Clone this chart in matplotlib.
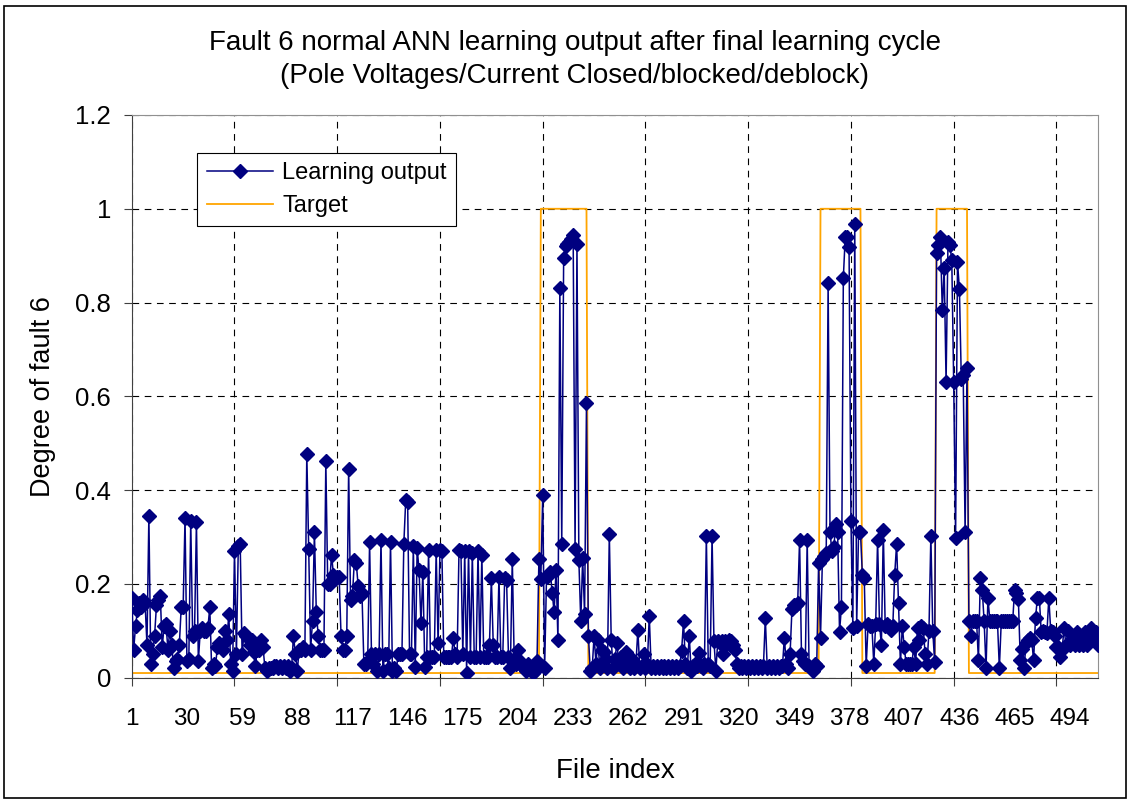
import matplotlib
matplotlib.use("Agg")
import matplotlib.pyplot as plt
from matplotlib.patches import Rectangle
from matplotlib.ticker import FixedLocator, NullFormatter

plt.rcParams['font.family'] = ['Liberation Sans', 'DejaVu Sans']

# learning output, one value per file index (1..509)
learning_output = [
    0.17, 0.06, 0.11, 0.145, 0.16, 0.15, 0.165, 0.16, 0.07, 0.345,
    0.03, 0.05, 0.09, 0.155, 0.165, 0.175, 0.065, 0.11, 0.115, 0.06,
    0.10, 0.07, 0.02, 0.035, 0.04, 0.07, 0.15, 0.15, 0.34, 0.035,
    0.04, 0.335, 0.09, 0.10, 0.333, 0.035, 0.10, 0.105, 0.10, 0.10,
    0.105, 0.15, 0.02, 0.03, 0.025, 0.065, 0.075, 0.07, 0.06, 0.10,
    0.08, 0.135, 0.03, 0.015, 0.27, 0.05, 0.28, 0.285, 0.05, 0.095,
    0.09, 0.085, 0.07, 0.08, 0.055, 0.025, 0.06, 0.06, 0.08, 0.065,
    0.02, 0.015, 0.02, 0.02, 0.02, 0.025, 0.025, 0.02, 0.025, 0.02,
    0.025, 0.02, 0.025, 0.015, 0.02, 0.09, 0.05, 0.015, 0.06, 0.06,
    0.065, 0.06, 0.478, 0.275, 0.06, 0.12, 0.31, 0.14, 0.09, 0.06,
    0.06, 0.06, 0.462, 0.20, 0.20, 0.262, 0.22, 0.21, 0.215, 0.215,
    0.09, 0.06, 0.06, 0.09, 0.446, 0.165, 0.175, 0.25, 0.245, 0.195,
    0.175, 0.18, 0.03, 0.03, 0.035, 0.29, 0.05, 0.03, 0.05, 0.015,
    0.05, 0.294, 0.015, 0.05, 0.05, 0.02, 0.29, 0.015, 0.02, 0.015,
    0.05, 0.05, 0.05, 0.286, 0.379, 0.375, 0.05, 0.05, 0.28, 0.023,
    0.276, 0.23, 0.116, 0.226, 0.023, 0.045, 0.272, 0.045, 0.045, 0.045,
    0.272, 0.073, 0.272, 0.27, 0.045, 0.045, 0.045, 0.045, 0.045, 0.084,
    0.05, 0.045, 0.272, 0.27, 0.05, 0.27, 0.01, 0.27, 0.045, 0.265,
    0.045, 0.045, 0.27, 0.045, 0.262, 0.045, 0.045, 0.045, 0.07, 0.212,
    0.07, 0.045, 0.045, 0.215, 0.045, 0.045, 0.212, 0.208, 0.045, 0.02,
    0.254, 0.04, 0.03, 0.06, 0.035, 0.025, 0.02, 0.015, 0.03, 0.025,
    0.02, 0.01, 0.015, 0.035, 0.254,
    0.21, 0.39, 0.02, 0.215, 0.22, 0.225, 0.18, 0.14, 0.23, 0.08,
    0.83, 0.285, 0.895, 0.92, 0.925, 0.93, 0.935, 0.945, 0.275, 0.925,
    0.25, 0.12, 0.255, 0.135, 0.585, 0.09, 0.015, 0.02, 0.09, 0.03,
    0.08, 0.02, 0.06, 0.055, 0.04, 0.02, 0.306, 0.08, 0.02, 0.04,
    0.075, 0.03, 0.045, 0.02, 0.05, 0.055, 0.03, 0.02, 0.04, 0.02,
    0.03, 0.102, 0.02, 0.025, 0.05, 0.02, 0.03, 0.132, 0.02, 0.025,
    0.02, 0.025, 0.02, 0.025, 0.02, 0.025, 0.02, 0.025, 0.02, 0.025,
    0.02, 0.025, 0.02, 0.025, 0.057, 0.122, 0.03, 0.02, 0.09, 0.015,
    0.025, 0.03, 0.025, 0.053, 0.025, 0.02, 0.03, 0.302, 0.03, 0.025,
    0.302, 0.078, 0.015, 0.078, 0.075, 0.078, 0.05, 0.078, 0.075, 0.08,
    0.078, 0.07, 0.06, 0.03, 0.02, 0.025, 0.02, 0.025, 0.02, 0.025,
    0.02, 0.025, 0.02, 0.025, 0.02, 0.025, 0.02, 0.025, 0.127, 0.02,
    0.025, 0.02, 0.025, 0.02, 0.025, 0.02, 0.025, 0.025, 0.085, 0.03,
    0.02, 0.05, 0.147, 0.155, 0.155, 0.16, 0.294, 0.05, 0.035, 0.03,
    0.294, 0.025, 0.02, 0.015, 0.03, 0.025, 0.245, 0.085, 0.253, 0.26,
    0.265, 0.841, 0.31, 0.27, 0.278, 0.327, 0.31, 0.098, 0.151, 0.853,
    0.94, 0.939, 0.918, 0.335, 0.106, 0.967, 0.11, 0.31, 0.31, 0.22,
    0.212, 0.024, 0.114, 0.11, 0.11, 0.03, 0.115, 0.294, 0.115, 0.069,
    0.314, 0.11, 0.115, 0.11, 0.102, 0.11, 0.22, 0.286, 0.159, 0.03,
    0.11, 0.065, 0.03, 0.03, 0.03, 0.03, 0.065, 0.03, 0.106, 0.08,
    0.11, 0.106, 0.05, 0.03, 0.1, 0.302, 0.1, 0.033, 0.906, 0.922,
    0.94, 0.784, 0.873, 0.63, 0.93, 0.922, 0.89, 0.63, 0.298, 0.886,
    0.829, 0.637, 0.645, 0.31, 0.66, 0.122, 0.09, 0.12, 0.12, 0.122,
    0.037, 0.212, 0.188, 0.12, 0.02, 0.171, 0.122, 0.12, 0.12, 0.12,
    0.12, 0.02, 0.12, 0.12, 0.12, 0.12, 0.12, 0.12, 0.12, 0.188,
    0.18, 0.167, 0.037, 0.061, 0.02, 0.073, 0.08, 0.085, 0.08, 0.037,
    0.127, 0.171, 0.171, 0.098, 0.1, 0.098, 0.095, 0.171, 0.1, 0.098,
    0.09, 0.065, 0.065, 0.045, 0.06, 0.106, 0.07, 0.1, 0.07, 0.08,
    0.09, 0.07, 0.098, 0.07, 0.08, 0.07, 0.098, 0.07, 0.1, 0.106,
    0.08, 0.09, 0.098, 0.069,
]

# target: low level and the three fault windows (first, last file index)
target_low = 0.01
target_high = 1.0
fault_windows = [(216, 240), (363, 384), (424, 440)]

n_files = len(learning_output)
file_index = list(range(1, n_files + 1))
target = [target_low] * n_files
for start, end in fault_windows:
    for k in range(start, end + 1):
        target[k - 1] = target_high

label_ticks = list(range(1, n_files, 29))   # 1, 30, 59, ... 494
grid_ticks = list(range(1, n_files, 54))

fig = plt.figure(figsize=(11.29, 7.99), dpi=100)
ax = fig.add_axes([0.1167, 0.1518, 0.8561, 0.7043])

ax.plot(file_index, learning_output, color='#000080', lw=1.1, marker='D',
        markersize=7, markerfacecolor='#000080', markeredgecolor='#000080',
        label='Learning output', zorder=3)
ax.plot(file_index, target, color='#FFA500', lw=1.3, label='Target', zorder=2)

ax.set_xlim(1, n_files)
ax.set_ylim(0, 1.2)
ax.set_yticks([0, 0.2, 0.4, 0.6, 0.8, 1.0, 1.2])
ax.set_yticklabels(['0', '0.2', '0.4', '0.6', '0.8', '1', '1.2'])

ax.xaxis.remove_overlapping_locs = False
ax.xaxis.set_major_locator(FixedLocator(grid_ticks))
ax.xaxis.set_major_formatter(NullFormatter())
ax.xaxis.set_minor_locator(FixedLocator(label_ticks))
ax.set_xticklabels([str(t) for t in label_ticks], minor=True)
ax.tick_params(axis='x', which='minor', length=0, pad=22, labelsize=17.5)
ax.tick_params(axis='x', which='major', length=6, direction='out', color='#404040')
ax.tick_params(axis='y', length=6, direction='out', labelsize=18.5, pad=9, color='#404040')

ax.grid(True, which='major', color='black', linestyle=(0, (6, 5)), lw=0.8)
ax.set_axisbelow(True)

for side in ['top', 'right']:
    ax.spines[side].set_color('#909090')
for side in ['left', 'bottom']:
    ax.spines[side].set_color('#404040')

ax.set_xlabel('File index', fontsize=20, labelpad=20)
ax.set_ylabel('Degree of fault 6', fontsize=19.5, labelpad=14)
fig.text(0.509, 0.925,
         'Fault 6 normal ANN learning output after final learning cycle\n'
         '(Pole Voltages/Current Closed/blocked/deblock)',
         fontsize=20, linespacing=1.35, ha='center', va='center')

leg = ax.legend(loc='upper left', bbox_to_anchor=(0.0676, 0.9325),
                borderaxespad=0, fontsize=17, fancybox=False, framealpha=1,
                edgecolor='black', handlelength=2.8, handletextpad=0.4,
                borderpad=0.4, labelspacing=0.45)
leg.get_frame().set_linewidth(0.8)

fig.patches.append(Rectangle((4 / 1129, 1 / 799), 1122 / 1129, 792 / 799,
                             transform=fig.transFigure, fill=False,
                             edgecolor='black', lw=1.2))

fig.savefig('out.png', dpi=100)
